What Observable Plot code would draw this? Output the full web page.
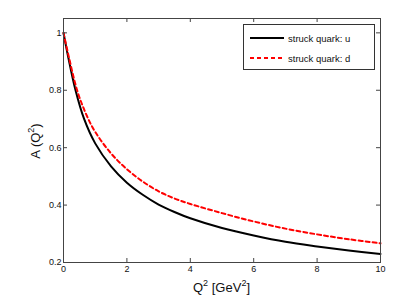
<!DOCTYPE html>
<html>
<head>
<meta charset="utf-8">
<script src="https://cdn.jsdelivr.net/npm/d3@7"></script>
<script src="https://cdn.jsdelivr.net/npm/@observablehq/plot@0.6"></script>
<style>
  body { margin: 0; background: #fff; }
  #wrap { position: relative; width: 409px; height: 300px; font-family: "Liberation Sans", Arial, sans-serif; }
  #legend { position: absolute; left: 243px; top: 24px; width: 130px; height: 44px; border: 1px solid #333; background: #fff; box-sizing: content-box; }
  #legend .row { position: absolute; left: 0; height: 14px; display: flex; align-items: center; font-size: 9.5px; color: #111; white-space: nowrap; }
  #legend svg { margin-left: 6px; margin-right: 4px; }
  .axlabel { position: absolute; font-size: 13px; color: #111; white-space: nowrap; line-height: 1; }
  .axlabel sup { font-size: 9px; vertical-align: 0; position: relative; top: -6px; }
  #xlab { left: 221.5px; top: 281px; transform: translateX(-50%); }
  #ylab { left: 35px; top: 141px; transform: translate(-50%, -50%) rotate(-90deg); }
</style>
</head>
<body>
<div id="wrap"><div id="chart"></div><div id="legend"></div>
<div id="xlab" class="axlabel"></div><div id="ylab" class="axlabel"></div></div>
<script>
// Data
const qU = [0, 0.15, 0.38, 0.65, 1.0, 1.5, 2.0, 2.5, 3.0, 3.5, 4.0, 5.0, 6.0, 7.0, 8.0, 9.0, 10.0];
const aU = [1.0, 0.915, 0.80, 0.70, 0.615, 0.535, 0.478, 0.436, 0.402, 0.376, 0.354, 0.320, 0.294, 0.272, 0.256, 0.242, 0.230];
const qD = [0, 0.15, 0.43, 0.7, 1.0, 1.5, 2.0, 2.5, 3.0, 3.5, 4.0, 5.0, 6.0, 7.0, 8.0, 9.0, 10.0];
const aD = [1.0, 0.925, 0.80, 0.72, 0.655, 0.58, 0.525, 0.482, 0.448, 0.423, 0.404, 0.372, 0.343, 0.318, 0.298, 0.281, 0.267];
const seriesNames = ["struck quark: u", "struck quark: d"];
const xTicks = [0, 2, 4, 6, 8, 10];
const yTicks = [0.2, 0.4, 0.6, 0.8, 1.0];
const xLabelHTML = "Q<sup>2</sup> [GeV<sup>2</sup>]";
const yLabelHTML = "A (Q<sup>2</sup>)";

const dataU = qU.map((q, i) => ({q, a: aU[i]}));
const dataD = qD.map((q, i) => ({q, a: aD[i]}));

const W = 409, H = 300, mL = 63, mR = 29, mT = 18, mB = 38;
const fw = W - mL - mR, fh = H - mT - mB;
const tk = 4;

const chart = Plot.plot({
  width: W, height: H,
  marginLeft: mL, marginRight: mR, marginTop: mT, marginBottom: mB,
  style: {fontFamily: "Liberation Sans, Arial, sans-serif", fontSize: "9px", color: "#111", background: "#fff"},
  x: {domain: [0, 10]},
  y: {domain: [0.2, 1.05]},
  marks: [
    Plot.line(dataU, {x: "q", y: "a", stroke: "#000", strokeWidth: 2, curve: "catmull-rom"}),
    Plot.line(dataD, {x: "q", y: "a", stroke: "#ff0000", strokeWidth: 2, strokeDasharray: "4,3", curve: "catmull-rom"}),
    // inward ticks (Matlab style) on all four sides
    Plot.tickX(xTicks, {x: d => d, stroke: "#444", insetTop: fh - tk}),
    Plot.tickX(xTicks, {x: d => d, stroke: "#444", insetBottom: fh - tk}),
    Plot.tickY(yTicks, {y: d => d, stroke: "#444", insetRight: fw - tk}),
    Plot.tickY(yTicks, {y: d => d, stroke: "#444", insetLeft: fw - tk}),
    Plot.frame({stroke: "#444", strokeWidth: 1}),
    Plot.axisX(xTicks, {tickSize: 0, tickPadding: 3, label: null, tickFormat: d => String(d)}),
    Plot.axisY(yTicks, {tickSize: 0, tickPadding: 2, label: null, tickFormat: d => d === 1 ? "1" : d.toFixed(1)})
  ]
});
document.getElementById("chart").appendChild(chart);
document.getElementById("xlab").innerHTML = xLabelHTML;
document.getElementById("ylab").innerHTML = yLabelHTML;

// Legend
const legend = document.getElementById("legend");
const styles = [
  {stroke: "#000", dash: null},
  {stroke: "#ff0000", dash: "4,3"}
];
seriesNames.forEach((name, i) => {
  const row = document.createElement("div");
  row.className = "row";
  row.style.top = (6 + i * 20) + "px";
  const s = styles[i];
  row.innerHTML = `<svg width="34" height="6"><line x1="0" y1="3" x2="34" y2="3" stroke="${s.stroke}" stroke-width="2" ${s.dash ? `stroke-dasharray="${s.dash}"` : ""}/></svg><span>${name}</span>`;
  legend.appendChild(row);
});
</script>
</body>
</html>
